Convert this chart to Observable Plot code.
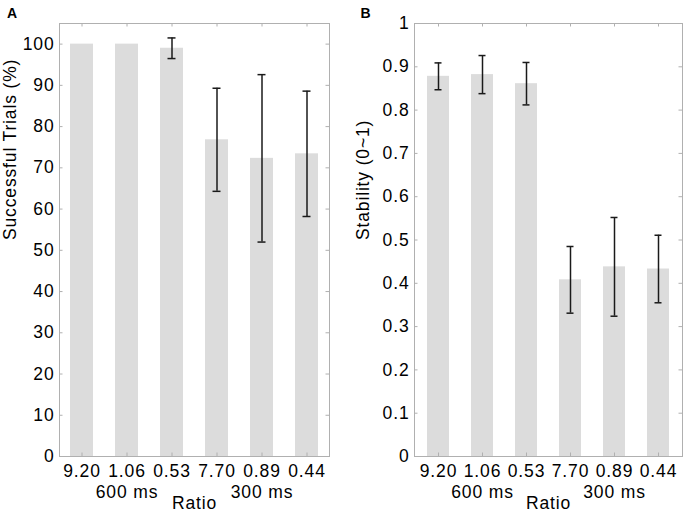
<!DOCTYPE html>
<html>
<head>
<meta charset="utf-8">
<script src="https://cdn.jsdelivr.net/npm/d3@7"></script>
<script src="https://cdn.jsdelivr.net/npm/@observablehq/plot@0.6"></script>
<style>
  html, body { margin: 0; padding: 0; background: #fff; }
  #chart { display: flex; width: 686px; height: 513px; }
</style>
</head>
<body>
<div id="chart"></div>
<script>
// ---- data ----
const ratios = ["9.20", "1.06", "0.53", "7.70", "0.89", "0.44"];
const groups = ["600 ms", "300 ms"]; // one per block of three ratios
const successMean = [100, 100, 99.0, 76.8, 72.3, 73.4];
const successErr  = [0, 0, 2.5, 12.5, 20.3, 15.2];
const stabilityMean = [0.878, 0.882, 0.861, 0.408, 0.438, 0.433];
const stabilityErr  = [0.031, 0.044, 0.049, 0.077, 0.114, 0.078];
const yTicksA = [0, 10, 20, 30, 40, 50, 60, 70, 80, 90, 100];
const yTicksB = [0, 0.1, 0.2, 0.3, 0.4, 0.5, 0.6, 0.7, 0.8, 0.9, 1];

const FRAME = "#b0b0b0";
const BAR = "#dcdcdc";
const ERR = "#1a1a1a";
const FONT = "'Liberation Sans', Arial, Helvetica, sans-serif";

function xLabel(d) {
  const i = ratios.indexOf(d);
  return i % 3 === 1 ? `${d}\n${groups[Math.floor(i / 3)]}` : d;
}

function panel({letter, yLabel, means, errs, yDomain, yTicks, width, marginLeft, marginRight, letterX, labelX}) {
  const height = 513, marginTop = 23, marginBottom = 57;
  const plotW = width - marginLeft - marginRight;
  const plotH = height - marginTop - marginBottom;
  const data = ratios.map((r, i) => ({ratio: r, mean: means[i], err: errs[i]}));
  const withErr = data.filter(d => d.err > 0);
  const tickLen = 3.5;
  return Plot.plot({
    width, height, marginLeft, marginRight, marginTop, marginBottom,
    style: {fontFamily: FONT, fontSize: "17.5px", color: "#000", background: "#fff", letterSpacing: "0.85px", overflow: "visible"},
    x: {type: "band", domain: ratios, paddingInner: 0.5, paddingOuter: 0.25},
    y: {domain: yDomain},
    marks: [
      Plot.barY(data, {x: "ratio", y: "mean", fill: BAR}),
      Plot.frame({stroke: FRAME}),
      // inward tick marks on all four sides
      Plot.tickY(yTicks, {y: d => d, insetRight: plotW - tickLen, stroke: FRAME}),
      Plot.tickY(yTicks, {y: d => d, insetLeft: plotW - tickLen, stroke: FRAME}),
      Plot.tickX(ratios, {x: d => d, insetTop: plotH - tickLen, stroke: FRAME}),
      Plot.tickX(ratios, {x: d => d, insetBottom: plotH - tickLen, stroke: FRAME}),
      // error bars
      Plot.ruleX(withErr, {x: "ratio", y1: d => d.mean - d.err, y2: d => d.mean + d.err, stroke: ERR, strokeWidth: 1.5}),
      Plot.tickY(withErr, {x: "ratio", y: d => d.mean + d.err, insetLeft: 7.5, insetRight: 7.5, stroke: ERR, strokeWidth: 1.5}),
      Plot.tickY(withErr, {x: "ratio", y: d => d.mean - d.err, insetLeft: 7.5, insetRight: 7.5, stroke: ERR, strokeWidth: 1.5}),
      // axes
      Plot.axisX({tickSize: 0, tickPadding: 5.5, label: null, tickFormat: xLabel, lineHeight: 1.2}),
      Plot.axisY({ticks: yTicks, tickSize: 0, tickPadding: 5, label: null, tickFormat: d => String(d)}),
      Plot.text(["Ratio"], {frameAnchor: "bottom", lineAnchor: "top", dy: 40.5}),
      Plot.text([yLabel], {frameAnchor: "left", rotate: -90, lineAnchor: "top", dx: labelX - marginLeft}),
      Plot.text([letter], {frameAnchor: "top-left", textAnchor: "start", lineAnchor: "bottom", dx: letterX - marginLeft, dy: -5.5, fontWeight: "bold", fontSize: 14, letterSpacing: 0})
    ]
  });
}

const chart = document.getElementById("chart");
chart.append(panel({
  letter: "A", yLabel: "Successful Trials (%)", means: successMean, errs: successErr,
  yDomain: [0, 105], yTicks: yTicksA, width: 343, marginLeft: 59, marginRight: 14, letterX: 6.5, labelX: 3.5
}));
chart.append(panel({
  letter: "B", yLabel: "Stability (0~1)", means: stabilityMean, errs: stabilityErr,
  yDomain: [0, 1], yTicks: yTicksB, width: 343, marginLeft: 71, marginRight: 4, letterX: 17, labelX: 13
}));
</script>
</body>
</html>
